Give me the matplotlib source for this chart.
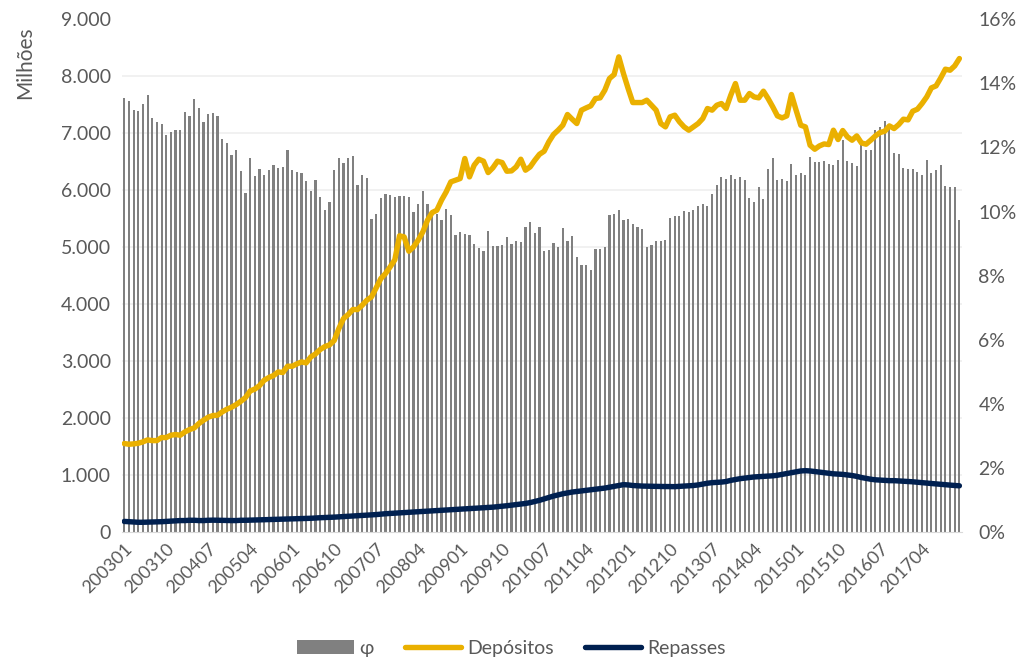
import matplotlib
matplotlib.use("Agg")
import matplotlib.pyplot as plt
from matplotlib.patches import Patch
from matplotlib.lines import Line2D
from matplotlib.ticker import FuncFormatter, FixedLocator, MultipleLocator

plt.rcParams['font.family'] = ['Lato', 'DejaVu Sans']

# months 200301 .. 201712
meses = [f"{a}{m:02d}" for a in range(2003, 2018) for m in range(1, 13)]

# phi (%), right axis
phi = [
    13.53, 13.44, 13.16, 13.14, 13.35, 13.63, 12.93, 12.78, 12.74, 12.40, 12.49, 12.53,
    12.54, 13.10, 12.99, 13.50, 13.23, 12.80, 13.05, 13.07, 12.99, 12.26, 12.13, 11.76,
    11.91, 11.28, 10.58, 11.66, 11.11, 11.32, 11.14, 11.29, 11.44, 11.37, 11.38, 11.92,
    11.30, 11.23, 11.19, 10.94, 10.65, 11.00, 10.45, 10.05, 10.29, 11.31, 11.67, 11.52,
    11.66, 11.73, 10.84, 11.14, 11.06, 9.78, 9.92, 10.41, 10.56, 10.53, 10.47, 10.49,
    10.49, 10.47, 9.98, 10.25, 10.64, 10.25, 9.96, 9.94, 9.75, 10.08, 9.90, 9.26,
    9.36, 9.30, 9.27, 8.98, 8.85, 8.77, 9.39, 8.92, 8.92, 8.96, 9.20, 8.99,
    9.08, 9.04, 9.53, 9.66, 9.34, 9.51, 8.76, 8.81, 9.02, 8.90, 9.50, 9.07,
    9.23, 8.59, 8.32, 8.35, 8.17, 8.83, 8.83, 8.89, 9.88, 9.91, 10.06, 9.74,
    9.78, 9.62, 9.51, 9.45, 8.91, 8.95, 9.09, 9.07, 9.12, 9.80, 9.85, 9.87,
    10.03, 10.00, 10.04, 10.17, 10.24, 10.17, 10.54, 10.84, 11.09, 11.03, 11.13, 11.02,
    11.07, 10.99, 10.42, 10.29, 10.77, 10.38, 11.32, 11.67, 10.98, 11.03, 10.96, 11.47,
    11.13, 11.21, 11.14, 11.69, 11.56, 11.56, 11.59, 11.47, 11.44, 11.61, 12.22, 11.59,
    11.51, 11.41, 12.07, 11.91, 11.91, 12.54, 12.64, 12.82, 12.66, 11.84, 11.80, 11.36,
    11.33, 11.32, 11.23, 11.13, 11.61, 11.19, 11.29, 11.46, 10.81, 10.78, 10.76, 9.73,
]

# Depositos (Milhoes), left axis
depositos = [
    1556, 1544, 1550, 1561, 1585, 1620, 1608, 1608, 1661, 1661, 1702, 1714,
    1702, 1760, 1801, 1830, 1907, 1965, 2018, 2047, 2053, 2111, 2158, 2193,
    2240, 2298, 2363, 2479, 2512, 2573, 2667, 2714, 2749, 2812, 2802, 2912,
    2912, 2953, 2988, 2971, 3076, 3129, 3205, 3257, 3287, 3363, 3573, 3749,
    3819, 3907, 3907, 3982, 4070, 4129, 4287, 4450, 4538, 4655, 4780, 5200,
    5181, 4930, 5005, 5123, 5269, 5474, 5608, 5649, 5825, 5970, 6146, 6175,
    6205, 6556, 6234, 6439, 6544, 6509, 6310, 6392, 6509, 6485, 6333, 6339,
    6409, 6544, 6351, 6409, 6526, 6630, 6684, 6848, 6977, 7053, 7140, 7328,
    7246, 7170, 7404, 7444, 7480, 7608, 7620, 7754, 7959, 8029, 8339, 8047,
    7784, 7538, 7538, 7538, 7579, 7491, 7404, 7170, 7111, 7287, 7316, 7200,
    7111, 7053, 7111, 7170, 7258, 7433, 7404, 7491, 7521, 7433, 7667, 7871,
    7579, 7579, 7696, 7637, 7620, 7737, 7608, 7462, 7304, 7269, 7304, 7679,
    7404, 7140, 7111, 6789, 6719, 6777, 6812, 6801, 7053, 6889, 7047, 6936,
    6877, 6953, 6830, 6807, 6877, 6953, 7012, 7035, 7128, 7082, 7152, 7246,
    7234, 7386, 7421, 7521, 7637, 7795, 7830, 7970, 8123, 8105, 8181, 8310,
]

# Repasses (Milhoes), left axis
repasses = [
    190, 185, 180, 175, 175, 178, 180, 182, 185, 190, 195, 200,
    205, 205, 210, 210, 205, 205, 210, 212, 210, 208, 205, 205,
    205, 210, 210, 212, 215, 218, 220, 222, 225, 228, 230, 232,
    235, 238, 240, 242, 245, 250, 255, 258, 262, 265, 270, 275,
    280, 285, 290, 295, 300, 305, 310, 318, 325, 330, 335, 340,
    345, 350, 355, 360, 365, 370, 375, 380, 385, 390, 395, 400,
    405, 410, 415, 420, 425, 430, 435, 440, 448, 455, 465, 475,
    485, 495, 505, 520, 540, 560, 585, 610, 635, 655, 675, 690,
    705, 715, 725, 735, 745, 755, 765, 775, 790, 805, 820, 835,
    830, 820, 815, 810, 808, 805, 805, 803, 802, 800, 800, 805,
    810, 815, 820, 830, 845, 860, 870, 875, 880, 890, 910, 925,
    940, 950, 960, 970, 975, 980, 985, 990, 1000, 1015, 1030, 1045,
    1060, 1075, 1080, 1075, 1065, 1055, 1045, 1035, 1025, 1020, 1015, 1005,
    995, 980, 960, 945, 930, 920, 915, 910, 905, 905, 900, 895,
    890, 885, 878, 870, 862, 855, 848, 840, 835, 828, 820, 815,
]

cinza_txt = '#595959'
cor_phi = '#808080'
cor_dep = '#EAB000'
cor_rep = '#002050'

fig = plt.figure(figsize=(10.33, 6.62), dpi=100)
ax = fig.add_axes([0.118, 0.196, 0.813, 0.775])
ax2 = ax.twinx()

x = list(range(len(meses)))

# bars on right axis (behind)
ax2.bar(x, phi, width=0.45, color=cor_phi, zorder=2)
ax2.set_ylim(0, 16)
ax2.yaxis.set_major_locator(MultipleLocator(2))
ax2.yaxis.set_major_formatter(FuncFormatter(lambda v, p: f"{v:.0f}%"))
# gridlines follow left axis steps (1.000) -> drawn here so they stay behind bars
ax2.yaxis.set_minor_locator(FixedLocator([k * 16 / 9 for k in range(1, 10)]))
ax2.grid(which='minor', axis='y', color='#efefef', linewidth=1.2, zorder=0)
ax2.set_axisbelow(True)
ax2.tick_params(axis='y', which='both', length=0, labelsize=14, labelcolor=cinza_txt, pad=12)

# lines on left axis (front)
ax.set_zorder(ax2.get_zorder() + 1)
ax.patch.set_visible(False)
ax.plot(x, depositos, color=cor_dep, linewidth=3.9, solid_capstyle='round', solid_joinstyle='round')
ax.plot(x, repasses, color=cor_rep, linewidth=3.9, solid_capstyle='round', solid_joinstyle='round')
ax.set_ylim(0, 9000)
ax.yaxis.set_major_locator(MultipleLocator(1000))
ax.yaxis.set_major_formatter(FuncFormatter(lambda v, p: f"{v:,.0f}".replace(',', '.')))
ax.tick_params(axis='y', length=0, labelsize=14, labelcolor=cinza_txt, pad=8)

ax.set_xlim(-0.5, len(meses) - 0.5)
pos = x[::9]
ax.set_xticks(pos)
ax.set_xticklabels([meses[i] for i in pos], rotation=45, ha='right', va='top',
                   rotation_mode='anchor', fontsize=13, color=cinza_txt)
ax.tick_params(axis='x', length=0, pad=6)

for a in (ax, ax2):
    for s in a.spines.values():
        s.set_visible(False)
ax2.spines['bottom'].set_visible(True)
ax2.spines['bottom'].set_color('#d9d9d9')

fig.text(0.024, 0.905, 'Milhões', rotation=90, ha='center', va='center',
         fontsize=15, color=cinza_txt)

handles = [
    Patch(facecolor=cor_phi, edgecolor='none'),
    Line2D([0], [0], color=cor_dep, linewidth=3.9, solid_capstyle='round'),
    Line2D([0], [0], color=cor_rep, linewidth=3.9, solid_capstyle='round'),
]
fig.legend(handles, ['φ', 'Depósitos', 'Repasses'], loc='center', bbox_to_anchor=(0.495, 0.021),
           ncol=3, frameon=False, fontsize=14, handlelength=2.9, handleheight=0.7,
           columnspacing=1.6, handletextpad=0.3, labelcolor=cinza_txt)

fig.savefig('out.png', dpi=100)
